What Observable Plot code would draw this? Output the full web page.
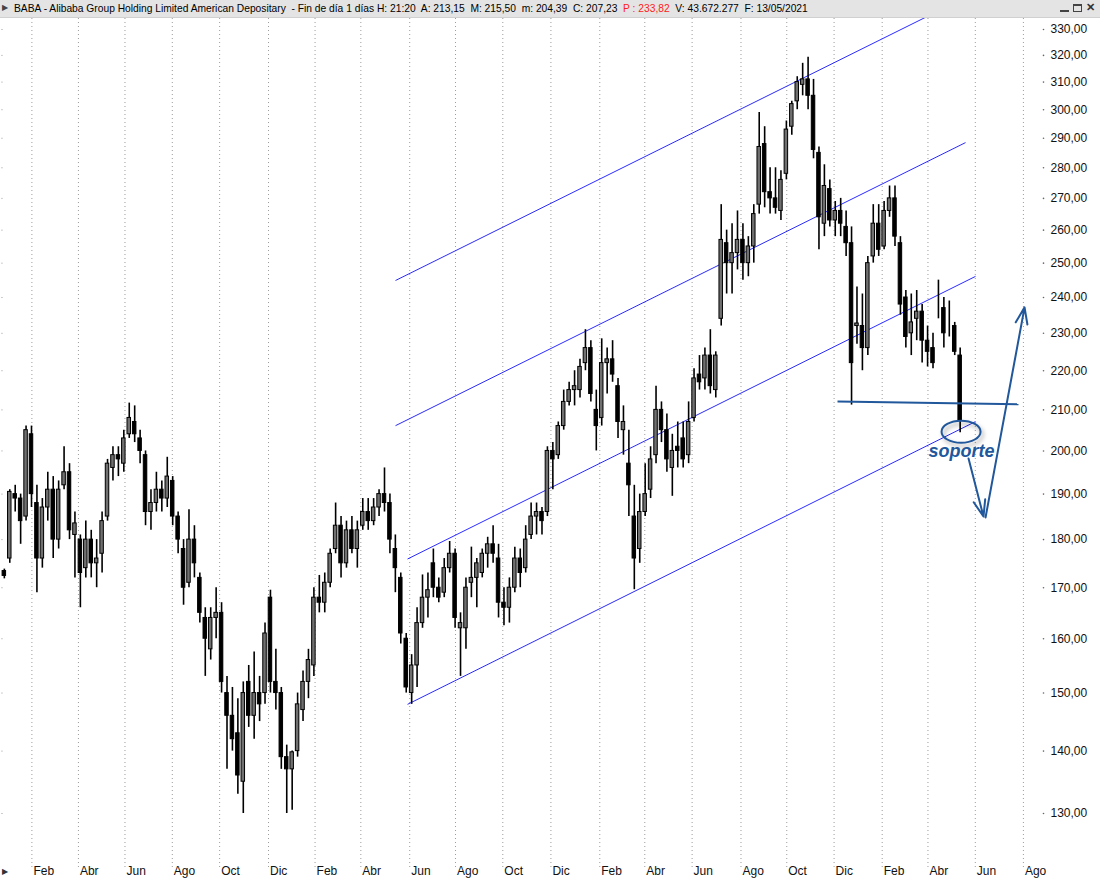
<!DOCTYPE html>
<html><head><meta charset="utf-8">
<script src="https://cdn.jsdelivr.net/npm/d3@7"></script>
<script src="https://cdn.jsdelivr.net/npm/@observablehq/plot@0.6"></script>
<style>
html,body{margin:0;padding:0;background:#fff;}
body{width:1100px;height:881px;overflow:hidden;position:relative;font-family:"Liberation Sans",Arial,sans-serif;}
#bar{position:absolute;left:0;top:0;width:1100px;height:18px;background:#e4e4e4;border-bottom:1px solid #d0d0d0;box-sizing:border-box;}
#bar .tri{position:absolute;left:2px;top:3px;font-size:8px;color:#444;}
#ttl{position:absolute;left:14px;top:2px;font-size:10.25px;line-height:13px;white-space:pre;color:#000;}
#ttl .red{color:#ff2020;}
.btn{position:absolute;top:4px;width:9px;height:8px;box-sizing:border-box;}
#chart{position:absolute;left:0;top:18px;}
#tri2{position:absolute;left:2px;top:867px;font-size:8px;color:#333;}
</style></head><body>
<div id="bar"><span class="tri">&#9654;</span><span id="ttl"></span>
<div class="btn" style="left:1060px;border-bottom:2px solid #444;"></div>
<div class="btn" style="left:1073px;border:1px solid #444;border-top-width:2px;"></div>
<div class="btn" style="left:1086px;font-size:11px;line-height:8px;top:3px;color:#333;font-weight:bold;">&#10005;</div>
</div>
<div id="chart"></div>
<div id="tri2">&#9654;</div>
<script>
// ---------- weekly OHLC (week starting Monday) ----------
const weekStart = [
"2017-12-25",
"2018-01-01","2018-01-08","2018-01-15","2018-01-22","2018-01-29","2018-02-05","2018-02-12","2018-02-19","2018-02-26","2018-03-05","2018-03-12","2018-03-19","2018-03-26",
"2018-04-02","2018-04-09","2018-04-16","2018-04-23","2018-04-30","2018-05-07","2018-05-14","2018-05-21","2018-05-28","2018-06-04","2018-06-11","2018-06-18","2018-06-25",
"2018-07-02","2018-07-09","2018-07-16","2018-07-23","2018-07-30","2018-08-06","2018-08-13","2018-08-20","2018-08-27","2018-09-03","2018-09-10","2018-09-17","2018-09-24",
"2018-10-01","2018-10-08","2018-10-15","2018-10-22","2018-10-29","2018-11-05","2018-11-12","2018-11-19","2018-11-26","2018-12-03","2018-12-10","2018-12-17","2018-12-24",
"2018-12-31","2019-01-07","2019-01-14","2019-01-21","2019-01-28","2019-02-04","2019-02-11","2019-02-18","2019-02-25","2019-03-04","2019-03-11","2019-03-18","2019-03-25",
"2019-04-01","2019-04-08","2019-04-15","2019-04-22","2019-04-29","2019-05-06","2019-05-13","2019-05-20","2019-05-27","2019-06-03","2019-06-10","2019-06-17","2019-06-24",
"2019-07-01","2019-07-08","2019-07-15","2019-07-22","2019-07-29","2019-08-05","2019-08-12","2019-08-19","2019-08-26","2019-09-02","2019-09-09","2019-09-16","2019-09-23",
"2019-09-30","2019-10-07","2019-10-14","2019-10-21","2019-10-28","2019-11-04","2019-11-11","2019-11-18","2019-11-25","2019-12-02","2019-12-09","2019-12-16","2019-12-23",
"2019-12-30","2020-01-06","2020-01-13","2020-01-20","2020-01-27","2020-02-03","2020-02-10","2020-02-17","2020-02-24","2020-03-02","2020-03-09","2020-03-16","2020-03-23",
"2020-03-30","2020-04-06","2020-04-13","2020-04-20","2020-04-27","2020-05-04","2020-05-11","2020-05-18","2020-05-25","2020-06-01","2020-06-08","2020-06-15","2020-06-22",
"2020-06-29","2020-07-06","2020-07-13","2020-07-20","2020-07-27","2020-08-03","2020-08-10","2020-08-17","2020-08-24","2020-08-31","2020-09-07","2020-09-14","2020-09-21",
"2020-09-28","2020-10-05","2020-10-12","2020-10-19","2020-10-26","2020-11-02","2020-11-09","2020-11-16","2020-11-23","2020-11-30","2020-12-07","2020-12-14","2020-12-21",
"2020-12-28","2021-01-04","2021-01-11","2021-01-18","2021-01-25","2021-02-01","2021-02-08","2021-02-15","2021-02-22","2021-03-01","2021-03-08","2021-03-15","2021-03-22",
"2021-03-29","2021-04-05","2021-04-12","2021-04-19","2021-04-26","2021-05-03","2021-05-10"
];
const open = [
173.4,
176,190,189,185,204,188,176,187,191,180,192,195,181,
180,174,180,175,177,185,196,199,197,204,207,203,199,
186,188,191,189,193,185,178,171,180,172,164,158,164,
165,150,146,143,135,152,146,150,150,168,152,150,139,
137,140,147,152,155,168,167,171,178,183,175,182,178,
183,186,184,187,190,188,178,172,160,150,155,163,168,
175,170,169,174,177,162,162,171,172,173,177,179,176,
167,166,170,176,174,181,185,186,186,200,199,206,212,
215,215,222,226,210,208,222,223,216,205,197,185,178,
186,191,199,210,205,196,201,203,199,208,219,218,224,
215,234,256,250,253,257,250,255,268,288,272,270,266,
278,294,303,309,311,305,285,262,273,263,266,261,256,
232,232,226,252,262,255,266,270,256,240,230,234,236,
228,226,238,237,231,232,224
];
const high = [
173.8,
191,192,190,206,206,192,189,195,194,193,201,197,186,
181,184,182,180,186,198,201,201,205,211.7,211,205,200,
191,195,193,198.5,194,186,180,186.5,183,173,166,166,170,
167,153,151,149,152,155,157.5,153,163,169.5,158,151,141,
140,150,154,158,170,172.5,173,178,188,185,184,185,184,
189,189,189,191,196,190,181,173,161,157,166,172.6,173,
178,172,176,179.6,178,165,172,178.4,176,178,180.5,183,179,
170,172,178.4,178,183,188,188,187,201,202,207,215,217,
220,223,231,228,215,228.5,226,228,218,211,205,192,190,
197,201,216,212,209,204,207,207,212,220.5,224,226,231,
225,268,260,262,266,262,258,268,299,294,280,280,279,
296,303,312,317,319.3,311,287,281,276,269,270,266,261,
243,241,252,268,268,269,274,274,258,242,241,242,238,
232,230,245,240,239,233,226
];
const low = [
171.8,
175,186,179,184,187,169,174,184,176,178,191,180,172,
166,172,172,170,173,184,193,194,195,203,202,197,183,
182,186,186,187,183,177,166.5,170,172,163,153,156,160,
150,137,140,133,130,144,142,145,148,150,147,137,130,
130.5,139,145,149,153,165,165,170,177,172,174,177,174,
182,182,183,185,186,177,169,159,150,148,151,162,164,
168,167,168,173,162,153,158,168,166,172,174,175,164,
162.5,163,169,170,173,180,181,181,185,191,198,205,211,
211,213,220,212,200,206,214,217,203,199,185,169.6,175,
185,189,197,202,195,189.5,196,196,197,207,215,215,214,
213,232,241,241,248,245,246,250,265,267,265,265,263,
276,291,300,305,300,283,254,258,261,258,258,252,211.2,
227,220,224,250,252,254,264,255,235,226,224,228,222,
221,220.5,234,226,229,224,204.39
];
const close = [
172.4,
190.5,189,184,205,190,176,187,191,180,191,195,182,183.5,
173,180,175,176,184,197,199,198,203,208,204,200,186,
188,191,189,194,185,180,170,180,175,165,160,164,165,
152,146,142,136,150,146,150,148,161,152,150,139,137,
139.8,148,152,156,168,167,171,177,183,175,182,178,182,
186,184,187,190,188,180,174,161,151,155,163,168,169.5,
170,168,174,177,164,163,170,172,175,177,179,177,167,
166,170,176,173,180,185,186,184,200,198,206,212,215,
216,221,226,214,206,222,223,219,207,207,192,176,186,
190,198,210,205,198,200,200,198,207,218,217,224,216,
224,257,250,253,257,250,255,265,287,272,270,267,276,
293,302,310,311,305,286,264,274,263,266,262,256,222,
232.7,226,250,262,254,266,270,258,238,229,233,236,228,
225,222,238,230,231,225,207.23
];

// ---------- axes ----------
const yTicks = [130,140,150,160,170,180,190,200,210,220,230,240,250,260,270,280,290,300,310,320,330];
const xTickDates = ["2018-02-01","2018-04-02","2018-06-01","2018-08-01","2018-10-01","2018-12-03",
  "2019-02-01","2019-04-01","2019-06-03","2019-08-01","2019-10-01","2019-12-02",
  "2020-02-03","2020-04-01","2020-06-01","2020-08-03","2020-10-01","2020-12-01",
  "2021-02-01","2021-04-01","2021-06-01","2021-08-02"];
const xTickLabels = ["Feb","Abr","Jun","Ago","Oct","Dic","Feb","Abr","Jun","Ago","Oct","Dic",
  "Feb","Abr","Jun","Ago","Oct","Dic","Feb","Abr","Jun","Ago"];

// ---------- channel lines ----------
const channelFromDate  = ["2019-05-15T17:00Z","2019-05-15T17:00Z","2019-05-31T05:00Z","2019-05-31T05:00Z"];
const channelFromPrice = [244.9, 206.1, 175.9, 148.0];
const channelToDate    = ["2021-04-04T07:00Z","2021-05-19T10:00Z","2021-06-01T07:00Z","2021-06-01T07:00Z"];
const channelToPrice   = [335.8, 288.5, 246.1, 207.1];

// ---------- annotations ----------
const supportDates  = ["2020-12-05T10:00Z","2021-07-26T17:00Z"];
const supportPrices = [212.1, 211.4];
const noteDate = "2021-05-14T07:00Z";
const ellipsePrice = 204.5;
const labelPrice = 200.0;
const labelText = "soporte";
const arrowFromDate  = ["2021-05-23T07:00Z","2021-06-14T05:00Z"];
const arrowFromPrice = [198.2, 184.8];
const arrowToDate    = ["2021-06-11T14:00Z","2021-08-03T12:00Z"];
const arrowToPrice   = [185.0, 237.2];

const titleText = "BABA - Alibaba Group Holding Limited American Depositary  - Fin de día 1 días H: 21:20  A: 213,15  M: 215,50  m: 204,39  C: 207,23  ";
const titleRed = "P : 233,82";
const titleTail = "  V: 43.672.277  F: 13/05/2021";

// ---------- build ----------
const ttl = document.getElementById("ttl");
ttl.append(titleText);
const red = document.createElement("span"); red.className = "red"; red.textContent = titleRed; ttl.append(red);
ttl.append(titleTail);

const D = s => new Date(s.length === 10 ? s + "T00:00Z" : s);
const candles = weekStart.map((w, i) => {
  const t0 = D(w);
  return {
    x1: d3.utcHour.offset(t0, 6), x2: d3.utcHour.offset(t0, 114), mid: d3.utcHour.offset(t0, 60),
    o: open[i], h: high[i], l: low[i], c: close[i], up: close[i] > open[i]
  };
});
const channels = channelFromDate.map((d, i) => ({x1: D(d), y1: channelFromPrice[i], x2: D(channelToDate[i]), y2: channelToPrice[i]}));
const support = [{x1: D(supportDates[0]), y1: supportPrices[0], x2: D(supportDates[1]), y2: supportPrices[1]}];
const arrows = arrowFromDate.map((d, i) => ({x1: D(d), y1: arrowFromPrice[i], x2: D(arrowToDate[i]), y2: arrowToPrice[i]}));
const xTicks = xTickDates.map((d, i) => ({date: D(d), label: xTickLabels[i]}));
const noteColor = "#21579b";
const fmt = v => v.toFixed(2).replace(".", ",");

const chart = Plot.plot({
  width: 1100, height: 863,
  marginLeft: 0, marginRight: 60, marginTop: 0, marginBottom: 26,
  x: {type: "utc", domain: [D("2017-12-22T13:12Z"), D("2021-08-24T01:12Z")], axis: null},
  y: {type: "log", domain: [123.67, 334.34], axis: null},
  style: {fontFamily: "'Liberation Sans', Arial, sans-serif", fontSize: "12px", background: "transparent", overflow: "visible"},
  marks: [
    Plot.ruleY(yTicks, {y: d => d, x1: D("2017-12-27"), stroke: "#9c9c9c", strokeDasharray: "1,3"}),
    Plot.ruleX(xTicks, {x: "date", y1: 334.34, y2: 121.5, stroke: "#9c9c9c", strokeDasharray: "1,3"}),
    Plot.link(channels, {x1: "x1", y1: "y1", x2: "x2", y2: "y2", stroke: "#2a2aff", strokeWidth: 1, clip: true}),
    Plot.ruleX(candles, {x: "mid", y1: "l", y2: "h", stroke: "#000", strokeWidth: 1.6}),
    Plot.rect(candles.filter(d => !d.up), {x1: "x1", x2: "x2", y1: "o", y2: "c", fill: "#000", stroke: "#000", strokeWidth: 1}),
    Plot.rect(candles.filter(d => d.up), {x1: "x1", x2: "x2", y1: "o", y2: "c", fill: "#707070", stroke: "#000", strokeWidth: 1}),
    Plot.link(support, {x1: "x1", y1: "y1", x2: "x2", y2: "y2", stroke: noteColor, strokeWidth: 2}),
    (index, scales) => {
      const g = d3.create("svg:g").attr("aria-label", "ellipse");
      g.append("ellipse")
        .attr("cx", scales.x(D(noteDate))).attr("cy", scales.y(ellipsePrice))
        .attr("rx", 19.5).attr("ry", 11)
        .attr("fill", "none").attr("stroke", noteColor).attr("stroke-width", 2)
        .style("filter", "drop-shadow(2px 3px 2px rgba(0,0,0,0.35))");
      return g.node();
    },
    Plot.text([labelText], {x: D(noteDate), y: labelPrice, text: d => d, fill: noteColor, fontSize: 18, fontWeight: "bold", fontStyle: "italic", ariaLabel: "soporte"}),
    Plot.arrow(arrows, {x1: "x1", y1: "y1", x2: "x2", y2: "y2", stroke: noteColor, strokeWidth: 2, headLength: 13, headAngle: 40}),
    Plot.dot(yTicks, {y: d => d, frameAnchor: "right", dx: 3, r: 0.8, fill: "#666", stroke: null}),
    Plot.text(yTicks, {y: d => d, text: fmt, frameAnchor: "right", dx: 10, textAnchor: "start", fill: "#111", fontSize: 12}),
    Plot.text(xTicks, {x: "date", text: "label", frameAnchor: "bottom", dy: 19, dx: 1.5, textAnchor: "start", fill: "#111", fontSize: 12})
  ]
});
const sop = chart.querySelector('g[aria-label="soporte"]');
if (sop) sop.style.filter = "drop-shadow(2px 3px 2px rgba(0,0,0,0.35))";
document.getElementById("chart").append(chart);
</script>
</body></html>
